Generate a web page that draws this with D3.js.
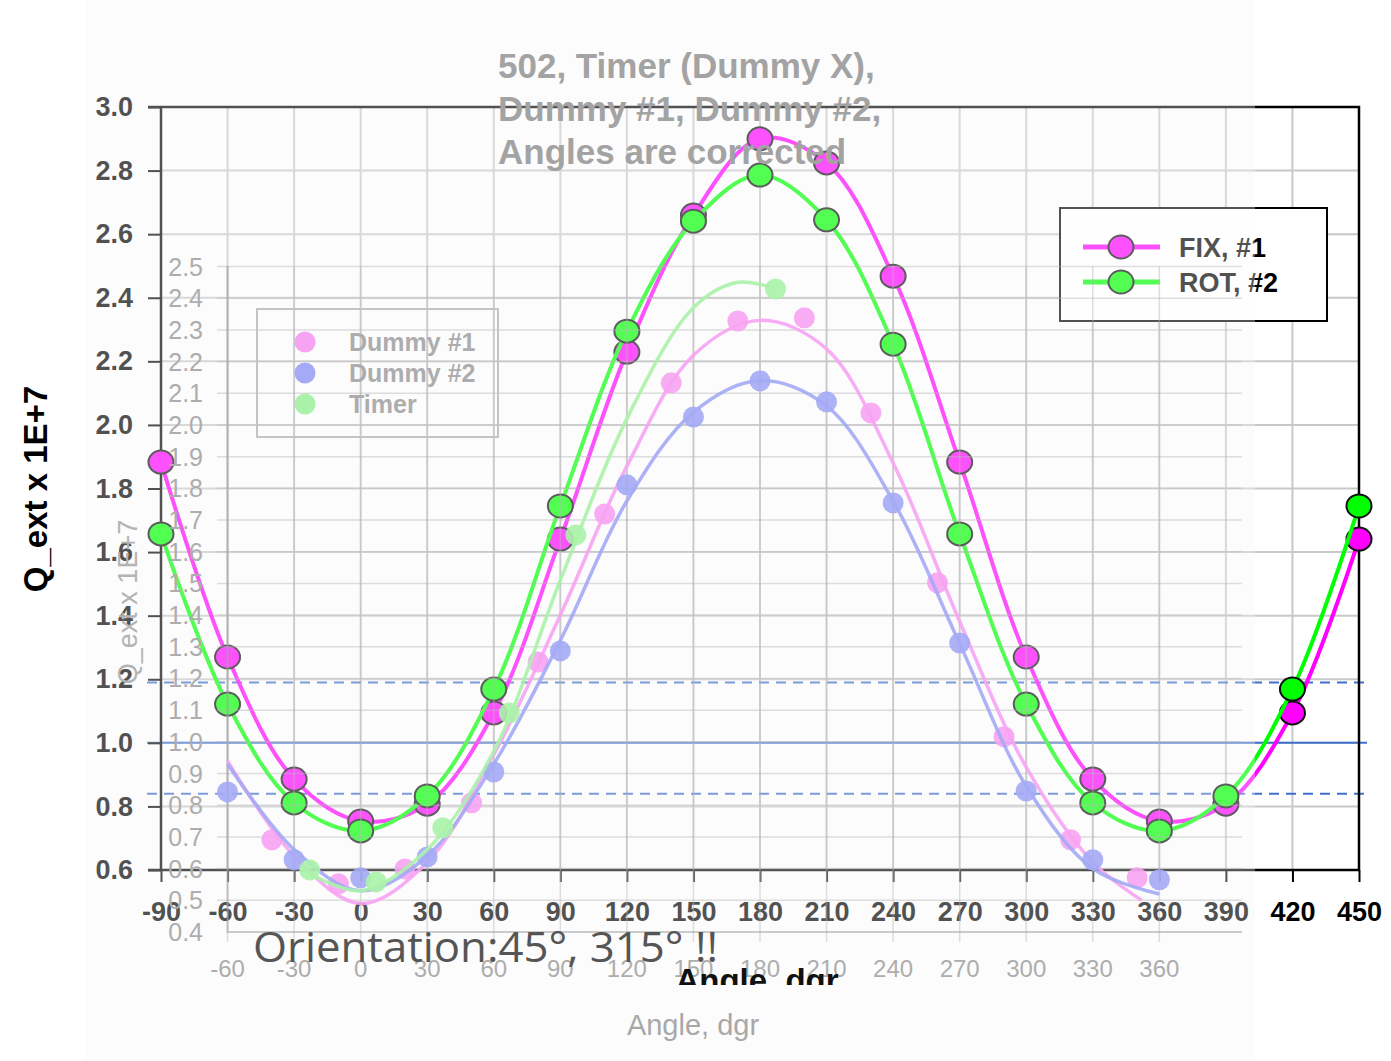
<!DOCTYPE html>
<html>
<head>
<meta charset="utf-8">
<script src="https://cdn.jsdelivr.net/npm/d3@7"></script>
<style>
  body { margin: 0; background: #fff; }
  svg { display: block; font-family: "Liberation Sans", Arial, sans-serif; }
</style>
</head>
<body>
<script>
// main chart: FIX #1 / ROT #2
const angles = [-90, -60, -30, 0, 30, 60, 90, 120, 150, 180, 210, 240, 270, 300, 330, 360, 390, 420, 450]
const fix = [1.883, 1.27, 0.886, 0.754, 0.807, 1.094, 1.641, 2.229, 2.66, 2.90, 2.824, 2.468, 1.883, 1.27, 0.886, 0.754, 0.807, 1.094, 1.641]
const rot = [1.657, 1.122, 0.811, 0.723, 0.833, 1.169, 1.745, 2.295, 2.641, 2.786, 2.645, 2.254, 1.657, 1.122, 0.811, 0.723, 0.833, 1.169, 1.745]
const yTicks = [0.6, 0.8, 1.0, 1.2, 1.4, 1.6, 1.8, 2.0, 2.2, 2.4, 2.6, 2.8, 3.0]
const refLines = [{ v: 1.19, dash: true }, { v: 1.0, dash: false }, { v: 0.84, dash: true }]

// faded background chart: Dummy #1, Dummy #2, Timer
const d1Angles = [-40, -10, 20, 50, 80, 110, 140, 170, 200, 230, 260, 290, 320, 350]
const d1Values = [0.691, 0.552, 0.599, 0.808, 1.252, 1.719, 2.133, 2.328, 2.338, 2.038, 1.502, 1.016, 0.691, 0.571]
const d2Angles = [-60, -30, 0, 30, 60, 90, 120, 150, 180, 210, 240, 270, 300, 330, 360]
const d2Values = [0.842, 0.628, 0.571, 0.637, 0.905, 1.287, 1.811, 2.025, 2.139, 2.073, 1.754, 1.312, 0.845, 0.628, 0.565]
const tmAngles = [-23, 7, 37, 67, 97, 187]
const tmValues = [0.596, 0.558, 0.729, 1.091, 1.653, 2.429]
// fitted curves
const d1FitAngles = [-60, -30, 0, 30, 60, 90, 120, 150, 180, 210, 240, 270, 300, 330, 352]
const d1FitValues = [0.94, 0.64, 0.49, 0.62, 0.96, 1.40, 1.87, 2.22, 2.33, 2.24, 1.88, 1.38, 0.92, 0.62, 0.50]
const d2FitAngles = [-60, -30, 0, 30, 60, 90, 120, 150, 180, 210, 240, 270, 300, 330, 360]
const d2FitValues = [0.93, 0.66, 0.53, 0.64, 0.93, 1.32, 1.76, 2.04, 2.14, 2.06, 1.76, 1.31, 0.86, 0.60, 0.52]
const tmFitAngles = [-27, 0, 30, 60, 90, 120, 150, 170, 187]
const tmFitValues = [0.60, 0.53, 0.66, 0.97, 1.51, 2.02, 2.37, 2.45, 2.43]
const bgYTicks = d3.range(4, 26).map(d => d / 10)
const bgXTicks = [-60, -30, 0, 30, 60, 90, 120, 150, 180, 210, 240, 270, 300, 330, 360]
const bgTitle = ["502, Timer (Dummy X),", "Dummy #1, Dummy #2,", "Angles are corrected"]
const bgLegend = [
    { name: "Dummy #1", color: "#f7a3f3" },
    { name: "Dummy #2", color: "#a4aaf5" },
    { name: "Timer", color: "#aaf2aa" },
]

const W = 1391, H = 1061
const x = d3.scaleLinear().domain([-90, 450]).range([161, 1359])
const y = d3.scaleLinear().domain([0.6, 3.0]).range([870, 107])
const yb = d3.scaleLinear().domain([0.4, 2.5]).range([932, 266.5])

const svg = d3.select("body").append("svg").attr("width", W).attr("height", H)

// tinted area of the pasted background picture
svg.append("rect").attr("x", 85).attr("y", 0).attr("width", 1170).attr("height", H).attr("fill", "#fcfcfc")

// ---------- main chart ----------
const main = svg.append("g")

main.append("g").selectAll("line")
    .data(angles.filter(a => a > -90 && a < 450))
    .enter().append("line")
    .attr("x1", d => x(d)).attr("x2", d => x(d))
    .attr("y1", y(3.0)).attr("y2", y(0.6))
    .attr("stroke", "#c8c8c8").attr("stroke-width", 2)

main.append("g").selectAll("line")
    .data(yTicks.filter(v => v > 0.6 && v < 3.0))
    .enter().append("line")
    .attr("x1", x(-90)).attr("x2", x(450))
    .attr("y1", d => y(d)).attr("y2", d => y(d))
    .attr("stroke", "#c8c8c8").attr("stroke-width", 2)

main.append("g").selectAll("line")
    .data(refLines)
    .enter().append("line")
    .attr("x1", 147).attr("x2", 1367)
    .attr("y1", d => y(d.v)).attr("y2", d => y(d.v))
    .attr("stroke", "#3f6fcc").attr("stroke-width", 2)
    .attr("stroke-dasharray", d => d.dash ? "10,7" : null)

let yAxis = main.append("g").attr("transform", `translate(${x(-90)},0)`)
    .call(d3.axisLeft(y).tickValues(yTicks).tickFormat(d3.format(".1f")).tickSize(13).tickPadding(15))
let xAxis = main.append("g").attr("transform", `translate(0,${y(0.6)})`)
    .call(d3.axisBottom(x).tickValues(angles).tickFormat(d => String(d)).tickSize(12).tickPadding(20))
main.selectAll(".domain").remove()
main.selectAll(".tick line").attr("stroke", "#000").attr("stroke-width", 2)
main.selectAll(".tick text").attr("fill", "#000").attr("font-size", 27).attr("font-weight", "bold")
xAxis.selectAll(".tick text").attr("dy", "0.72em")

// frame
main.append("path")
    .attr("d", `M${x(-90)},${y(0.6)}V${y(3.0)}M148,${y(3.0)}H${x(450)}V${y(0.6)}M148,${y(0.6)}H${x(450)}`)
    .attr("fill", "none").attr("stroke", "#000").attr("stroke-width", 2.5)

const line = d3.line().x(d => x(d[0])).y(d => y(d[1])).curve(d3.curveCatmullRom.alpha(0.5))
const series = [
    { name: "FIX, #1", values: fix, color: "#ff00ff" },
    { name: "ROT, #2", values: rot, color: "#00ff00" },
]
series.forEach(s => {
    let pts = angles.map((a, i) => [a, s.values[i]])
    main.append("path").datum(pts)
        .attr("d", line)
        .attr("fill", "none").attr("stroke", s.color).attr("stroke-width", 4)
    main.append("g").selectAll("ellipse")
        .data(pts)
        .enter().append("ellipse")
        .attr("cx", d => x(d[0])).attr("cy", d => y(d[1]))
        .attr("rx", 12.5).attr("ry", 11.5)
        .attr("fill", s.color).attr("stroke", "#111").attr("stroke-width", 2)
})

// main legend
let lg = main.append("g").attr("transform", "translate(1060,208)")
lg.append("rect").attr("width", 267).attr("height", 113).attr("fill", "#fff").attr("stroke", "#000").attr("stroke-width", 2)
series.forEach((s, i) => {
    let ly = 39 + i * 35
    lg.append("line").attr("x1", 23).attr("x2", 100).attr("y1", ly).attr("y2", ly)
        .attr("stroke", s.color).attr("stroke-width", 5)
    lg.append("ellipse").attr("cx", 61).attr("cy", ly).attr("rx", 12.5).attr("ry", 11.5)
        .attr("fill", s.color).attr("stroke", "#111").attr("stroke-width", 2)
    lg.append("text").attr("x", 119).attr("y", ly + 10).attr("font-size", 27).attr("font-weight", "bold")
        .attr("fill", "#000").text(s.name)
})

// ---------- semi transparent pasted picture ----------
svg.append("rect").attr("x", 85).attr("y", 0).attr("width", 1170).attr("height", H)
    .attr("fill", "#fcfcfc").attr("opacity", 0.32)

const bg = svg.append("g")

bg.append("g").selectAll("line")
    .data(bgYTicks.filter(v => v > 0.4))
    .enter().append("line")
    .attr("x1", 217).attr("x2", 1242)
    .attr("y1", d => yb(d)).attr("y2", d => yb(d))
    .attr("stroke", "#b8b8b8").attr("stroke-width", 1.5).attr("opacity", 0.45)

bg.append("g").selectAll("line")
    .data(bgXTicks)
    .enter().append("line")
    .attr("x1", d => x(d)).attr("x2", d => x(d))
    .attr("y1", yb(2.5)).attr("y2", yb(0.4) + 10)
    .attr("stroke", "#b8b8b8").attr("stroke-width", 1.5).attr("opacity", 0.45)

bg.append("path")
    .attr("d", `M${x(-60)},${yb(2.5)}V${yb(0.4)}H1242`)
    .attr("fill", "none").attr("stroke", "#9a9a9a").attr("stroke-width", 2).attr("opacity", 0.5)

bg.append("g").selectAll("text")
    .data(bgYTicks)
    .enter().append("text")
    .attr("x", 203).attr("y", d => yb(d) + 9)
    .attr("text-anchor", "end").attr("font-size", 25).attr("fill", "#adadad")
    .text(d => d.toFixed(1))

bg.append("g").selectAll("text")
    .data(bgXTicks)
    .enter().append("text")
    .attr("x", d => x(d)).attr("y", 977)
    .attr("text-anchor", "middle").attr("font-size", 24).attr("fill", "#adadad")
    .text(d => d)

bg.append("text").attr("x", 693).attr("y", 1035).attr("text-anchor", "middle")
    .attr("font-size", 29).attr("fill", "#a8a8a8").text("Angle, dgr")
bg.append("text").attr("transform", "translate(137,602) rotate(-90)").attr("text-anchor", "middle")
    .attr("font-size", 27).attr("fill", "#b4b4b4").text("Q_ext  x  1E+7")

bg.append("g").selectAll("text")
    .data(bgTitle)
    .enter().append("text")
    .attr("x", 498).attr("y", (d, i) => 78 + i * 43)
    .attr("font-size", 35).attr("font-weight", "bold").attr("fill", "#a3a3a3")
    .text(d => d)

const bline = d3.line().x(d => x(d[0])).y(d => yb(d[1])).curve(d3.curveCatmullRom.alpha(0.5))
const bgSeries = [
    { fa: d1FitAngles, fv: d1FitValues, a: d1Angles, v: d1Values, color: bgLegend[0].color },
    { fa: d2FitAngles, fv: d2FitValues, a: d2Angles, v: d2Values, color: bgLegend[1].color },
    { fa: tmFitAngles, fv: tmFitValues, a: tmAngles, v: tmValues, color: bgLegend[2].color },
]
bgSeries.forEach(s => {
    bg.append("path").datum(s.fa.map((a, i) => [a, s.fv[i]]))
        .attr("d", bline)
        .attr("fill", "none").attr("stroke", s.color).attr("stroke-width", 3.5).attr("opacity", 0.9)
    bg.append("g").selectAll("circle")
        .data(s.a.map((a, i) => [a, s.v[i]]))
        .enter().append("circle")
        .attr("cx", d => x(d[0])).attr("cy", d => yb(d[1])).attr("r", 10.5)
        .attr("fill", s.color).attr("opacity", 0.9)
})

let bl = bg.append("g").attr("transform", "translate(257,309)")
bl.append("rect").attr("width", 241).attr("height", 128).attr("fill", "none")
    .attr("stroke", "#c4c4c4").attr("stroke-width", 2)
bgLegend.forEach((d, i) => {
    bl.append("circle").attr("cx", 48).attr("cy", 33 + i * 31).attr("r", 10.5).attr("fill", d.color)
    bl.append("text").attr("x", 92).attr("y", 42 + i * 31).attr("font-size", 25).attr("font-weight", "bold")
        .attr("fill", "#adadad").text(d.name)
})

// main y title, outside the pasted picture
svg.append("text").attr("transform", "translate(47,489) rotate(-90)").attr("text-anchor", "middle")
    .attr("font-size", 33).attr("font-weight", "bold").attr("fill", "#000").text("Q_ext x 1E+7")

// main x title, mostly hidden
svg.append("clipPath").attr("id", "cut").append("rect").attr("x", 0).attr("y", 950).attr("width", W).attr("height", 35)
svg.append("text").attr("clip-path", "url(#cut)").attr("x", 757).attr("y", 992).attr("text-anchor", "middle")
    .attr("font-size", 33).attr("font-weight", "bold").attr("fill", "#111").text("Angle, dgr")

// note text
svg.append("text").attr("x", 253).attr("y", 962)
    .attr("font-family", "'Open Sans', sans-serif").attr("font-size", 42).attr("fill", "#555")
    .attr("textLength", 465).attr("lengthAdjust", "spacingAndGlyphs")
    .text("Orientation:45°, 315° !!")
</script>
</body>
</html>
